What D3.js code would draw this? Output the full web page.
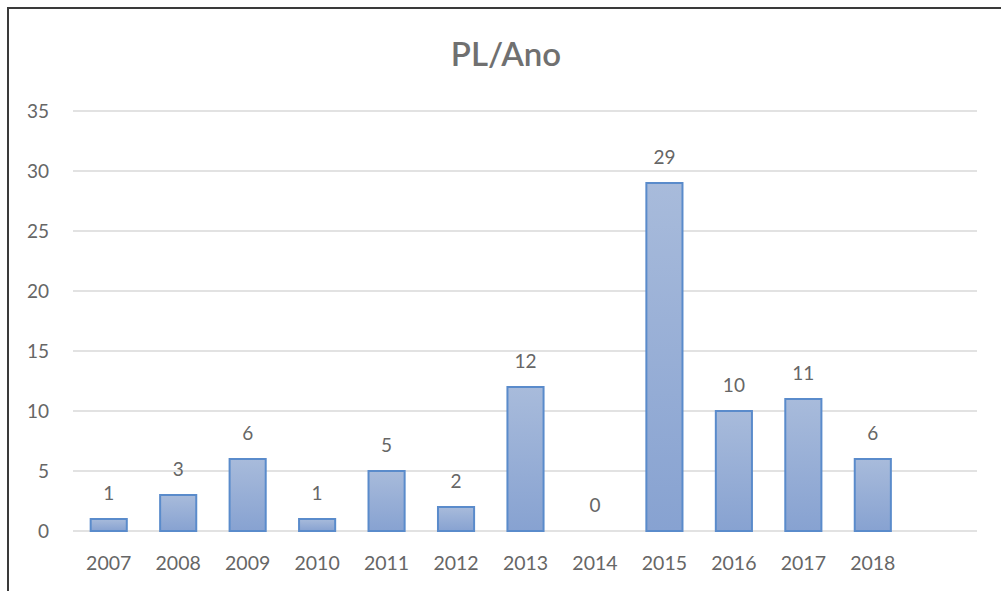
<!DOCTYPE html>
<html>
<head>
<meta charset="utf-8">
<script src="https://cdn.jsdelivr.net/npm/d3@7"></script>
<style>
  body { margin: 0; background: #fff; }
  svg text { font-family: Lato, 'Open Sans', sans-serif; fill: #666; }
</style>
</head>
<body>
<svg id="chart" width="1001" height="591"></svg>
<script>
// data
var years = ['2007', '2008', '2009', '2010', '2011', '2012', '2013', '2014', '2015', '2016', '2017', '2018']
var counts = [1, 3, 6, 1, 5, 2, 12, 0, 29, 10, 11, 6]
var yTicks = [0, 5, 10, 15, 20, 25, 30, 35]
var title = 'PL/Ano'

var margin = { top: 111, right: 24, bottom: 60, left: 74 }
var width = 1001 - margin.left - margin.right
var height = 591 - margin.top - margin.bottom

var svg = d3.select('#chart')

// outer frame (cut off on the right and bottom)
svg.append('rect')
  .attr('x', 8).attr('y', 8)
  .attr('width', 1010).attr('height', 620)
  .attr('fill', 'none')
  .attr('stroke', '#3a3a3a')
  .attr('stroke-width', 2)

var defs = svg.append('defs')
var grad = defs.append('linearGradient')
  .attr('id', 'barGrad')
  .attr('x1', 0).attr('y1', 0).attr('x2', 0).attr('y2', 1)
grad.append('stop').attr('offset', '0%').attr('stop-color', '#a8bbdb')
grad.append('stop').attr('offset', '100%').attr('stop-color', '#87a2d1')

var g = svg.append('g')
  .attr('transform', 'translate(' + margin.left + ',' + margin.top + ')')

// one empty slot at the end, like the source chart
var x = d3.scaleBand()
  .domain(years.concat(['']))
  .range([0, width])
  .paddingInner(0.48)
  .paddingOuter(0.24)

var y = d3.scaleLinear()
  .domain([0, 35])
  .range([height, 0])

// grid
g.append('g')
  .selectAll('line')
  .data(yTicks)
  .join('line')
  .attr('x1', -1).attr('x2', width)
  .attr('y1', function (d) { return y(d) })
  .attr('y2', function (d) { return y(d) })
  .attr('stroke', '#d9d9d9')
  .attr('stroke-width', 1.5)

// y labels
g.append('g')
  .selectAll('text')
  .data(yTicks)
  .join('text')
  .attr('x', -25)
  .attr('y', function (d) { return y(d) })
  .attr('dy', '0.35em')
  .attr('text-anchor', 'end')
  .style('font-size', '19px')
  .text(function (d) { return d })

// bars
g.append('g')
  .selectAll('rect')
  .data(counts)
  .join('rect')
  .attr('x', function (d, i) { return x(years[i]) })
  .attr('y', function (d) { return y(d) })
  .attr('width', x.bandwidth())
  .attr('height', function (d) { return y(0) - y(d) })
  .attr('fill', 'url(#barGrad)')
  .attr('stroke', '#5a8bcb')
  .attr('stroke-width', 2)

// value labels
g.append('g')
  .selectAll('text')
  .data(counts)
  .join('text')
  .attr('x', function (d, i) { return x(years[i]) + x.bandwidth() / 2 })
  .attr('y', function (d) { return y(d) - 19 })
  .attr('text-anchor', 'middle')
  .style('font-size', '19px')
  .text(function (d) { return d })

// x labels
g.append('g')
  .selectAll('text')
  .data(years)
  .join('text')
  .attr('x', function (d) { return x(d) + x.bandwidth() / 2 })
  .attr('y', height + 39)
  .attr('text-anchor', 'middle')
  .style('font-size', '19.5px')
  .text(function (d) { return d })

// title
svg.append('text')
  .attr('x', 506)
  .attr('y', 66)
  .attr('text-anchor', 'middle')
  .style('font-size', '33px')
  .style('font-weight', '600')
  .style('fill', '#707070')
  .text(title)
</script>
</body>
</html>
